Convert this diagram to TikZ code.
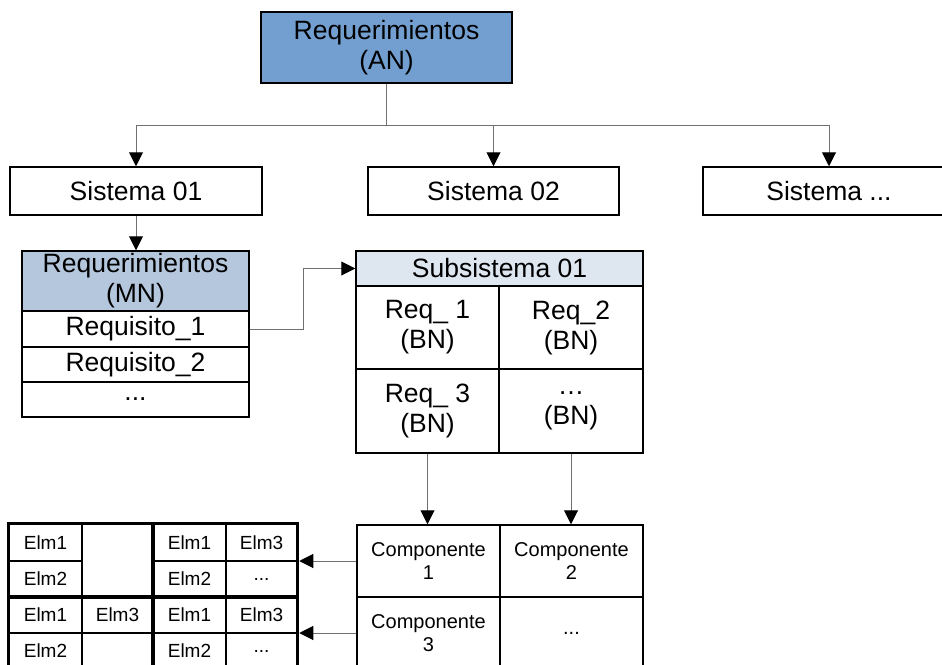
\documentclass[tikz,border=0pt]{standalone}
\usepackage{fontspec}
\setmainfont{Liberation Sans}
\usetikzlibrary{arrows.meta,fit}

\definecolor{topblue}{HTML}{729FCF}
\definecolor{midblue}{HTML}{B4C7DC}
\definecolor{lightblue}{HTML}{DEE6EF}
\definecolor{linkgray}{HTML}{707070}

\tikzset{
  box/.style={draw=black, line width=1.5pt, inner sep=0pt, align=center,
    font=\fontsize{26.5}{30}\selectfont},
  smallbox/.style={box, font=\fontsize{20}{23}\selectfont},
  elmcell/.style={draw=black, line width=1.5pt, inner sep=0pt,
    font=\fontsize{19}{22}\selectfont},
  grp/.style={draw=black, line width=3pt, inner sep=0pt},
  link/.style={draw=linkgray, line width=1pt},
  arrowlink/.style={link, -{Triangle[length=14pt,width=14pt,color=black]}},
}

\begin{document}
\begin{tikzpicture}[x=1pt,y=-1pt]
\useasboundingbox (0,0) rectangle (942,664);
\clip (0,0) rectangle (942,664);

% top level
\node[box, fill=topblue, minimum width=251, minimum height=71] (top) at (386.5,47.5)
  {Requerimientos\\(AN)};

% systems
\node[box, minimum width=252, minimum height=48] (s1) at (136,191) {Sistema 01};
\node[box, minimum width=251, minimum height=48] (s2) at (493.5,191) {Sistema 02};
\node[box, minimum width=252, minimum height=48] (s3) at (829,191) {Sistema ...};

\coordinate (hub) at (386.5,125);
\draw[link] (top.south) -- (hub);
\draw[arrowlink] (hub) -| (s1.north);
\draw[arrowlink] (hub) -| (s2.north);
\draw[arrowlink] (hub) -| (s3.north);

% medium-level requirements list
\node[box, fill=midblue, minimum width=227, minimum height=60] (mn) at (135.5,281)
  {Requerimientos\\(MN)};
\node[box, minimum width=227, minimum height=36] (rq1) at (135.5,329) {Requisito\_1};
\node[box, minimum width=227, minimum height=35] (rq2) at (135.5,364.5) {Requisito\_2};
\node[box, minimum width=227, minimum height=35] (rqn) at (135.5,399.5) {...};

\draw[arrowlink] (s1.south) -- (s1.south |- mn.north);

% subsystem table
\node[box, fill=lightblue, minimum width=287, minimum height=35] (sub) at (499.5,268.5)
  {Subsistema 01};
\node[box, minimum width=143, minimum height=83] (q1) at (427.5,327.5) {Req\_ 1\\(BN)};
\node[box, minimum width=144, minimum height=83] (q2) at (571,327.5) {Req\_2\\(BN)};
\node[box, minimum width=143, minimum height=84] (q3) at (427.5,411) {Req\_ 3\\(BN)};
\node[box, minimum width=144, minimum height=84] (q4) at (571,411) {…\\(BN)};

\draw[arrowlink] (rq1.east) -- ++(54,0) |- (sub.west);

% components
\node[smallbox, minimum width=143, minimum height=72] (c1) at (428.5,561) {Componente\\1};
\node[smallbox, minimum width=143, minimum height=72] (c2) at (571.5,561) {Componente\\2};
\node[smallbox, minimum width=143, minimum height=72] (c3) at (428.5,633) {Componente\\3};
\node[smallbox, minimum width=143, minimum height=72] (c4) at (571.5,633) {...};

\draw[arrowlink] (q3.south) -- (q3.south |- c1.north);
\draw[arrowlink] (q4.south) -- (q4.south |- c2.north);

% element grids
% upper left
\node[elmcell, minimum width=73, minimum height=37] (a11) at (45.5,542.5) {Elm1};
\node[elmcell, minimum width=73, minimum height=36] (a21) at (45.5,579) {Elm2};
\node[elmcell, minimum width=71, minimum height=73] (a12) at (117.5,560.5) {};
% upper right
\node[elmcell, minimum width=73, minimum height=37] (b11) at (189.5,542.5) {Elm1};
\node[elmcell, minimum width=71, minimum height=37] (b12) at (261.5,542.5) {Elm3};
\node[elmcell, minimum width=73, minimum height=36] (b21) at (189.5,579) {Elm2};
\node[elmcell, minimum width=71, minimum height=36] (b22) at (261.5,579) {...};
% lower left
\node[elmcell, minimum width=73, minimum height=36] (d11) at (45.5,615) {Elm1};
\node[elmcell, minimum width=71, minimum height=36] (d12) at (117.5,615) {Elm3};
\node[elmcell, minimum width=73, minimum height=36] (d21) at (45.5,651) {Elm2};
\node[elmcell, minimum width=71, minimum height=36] (d22) at (117.5,651) {};
% lower right
\node[elmcell, minimum width=73, minimum height=36] (e11) at (189.5,615) {Elm1};
\node[elmcell, minimum width=71, minimum height=36] (e12) at (261.5,615) {Elm3};
\node[elmcell, minimum width=73, minimum height=36] (e21) at (189.5,651) {Elm2};
\node[elmcell, minimum width=71, minimum height=36] (e22) at (261.5,651) {...};

\node[grp, fit=(a11)(a21)(a12)] (ga) {};
\node[grp, fit=(b11)(b12)(b21)(b22)] (gb) {};
\node[grp, fit=(d11)(d12)(d21)(d22)] (gd) {};
\node[grp, fit=(e11)(e12)(e21)(e22)] (ge) {};

\draw[arrowlink] (c1.west) -- (c1.west -| gb.east);
\draw[arrowlink] (c3.west) -- (c3.west -| ge.east);
\end{tikzpicture}
\end{document}
